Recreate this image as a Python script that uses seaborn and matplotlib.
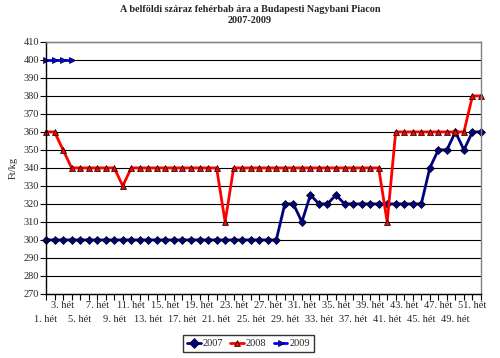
import pandas as pd
import seaborn as sns
import matplotlib.pyplot as plt
from matplotlib.lines import Line2D

# Data (Ft/kg per week)
weeks = list(range(1, 53))
price_2007 = [300] * 28 + [320, 320, 310, 325, 320, 320, 325] + [320] * 10 + [340, 350, 350, 360, 350, 360, 360]
price_2008 = [360, 360, 350, 340, 340, 340, 340, 340, 340, 330] + [340] * 11 + [310] + [340] * 18 + [310] + [360] * 9 + [380, 380]
price_2009 = [400, 400, 400, 400]

rows = []
for w, v in zip(weeks, price_2007):
    rows.append(("2007", w, v))
for w, v in zip(weeks, price_2008):
    rows.append(("2008", w, v))
for w, v in zip(weeks, price_2009):
    rows.append(("2009", w, v))
df = pd.DataFrame(rows, columns=["ev", "het", "ar"])

sns.set_style("white")
plt.rcParams["font.family"] = ["Liberation Serif", "DejaVu Serif"]

fig = plt.figure(figsize=(5, 3.58), dpi=100)
ax = fig.add_axes([0.092, 0.179, 0.87, 0.704])

colors = {"2007": "#000080", "2008": "#FF0000", "2009": "#0000FF"}
markers = {"2007": "D", "2008": "^", "2009": ">"}

# horizontal grid
for y in range(270, 411, 10):
    ax.axhline(y, color="black", lw=0.8, zorder=0)

sns.lineplot(data=df, x="het", y="ar", hue="ev", style="ev", palette=colors,
             markers=markers, dashes=False, lw=2, markersize=4.5,
             markeredgecolor="black", markeredgewidth=0.5, legend=False, ax=ax)
for line in ax.lines:
    line.set_clip_on(False)

ax.set_xlim(1, 52)
ax.set_ylim(270, 410)
ax.set_yticks(range(270, 411, 10))

# two rows of week labels: upper row on major ticks, lower row on minor ticks
upper = [w for w in weeks if w % 4 != 1]
lower = [w for w in weeks if w % 4 == 1]
ax.set_xticks(upper)
ax.set_xticklabels([f"{w}. hét" if w % 4 == 3 else "" for w in upper])
ax.set_xticks(lower, minor=True)
ax.set_xticklabels([f"{w}. hét" for w in lower], minor=True)

ax.tick_params(axis="both", which="both", labelsize=7.5, length=4, width=0.8,
               direction="out", bottom=True, left=True, color="black")
ax.tick_params(axis="x", which="major", pad=1)
ax.tick_params(axis="x", which="minor", pad=11)
ax.tick_params(axis="y", pad=1)

ax.set_xlabel("")
ax.set_ylabel("Ft/kg", fontsize=7.5, labelpad=4)

for side in ["left", "bottom"]:
    ax.spines[side].set_color("black")
    ax.spines[side].set_linewidth(1)
for side in ["top", "right"]:
    ax.spines[side].set_color("#808080")
    ax.spines[side].set_linewidth(1)

fig.suptitle("A belföldi száraz fehérbab ára a Budapesti Nagybani Piacon\n2007-2009",
             fontsize=7.3, fontweight="bold", y=0.985)

handles = [Line2D([], [], color=colors[k], marker=markers[k], lw=2, markersize=5,
                  markeredgecolor="black", markeredgewidth=0.5) for k in ["2007", "2008", "2009"]]
fig.legend(handles, ["2007", "2008", "2009"], loc="center", bbox_to_anchor=(0.497, 0.04),
           ncol=3, fontsize=7.5, frameon=True, fancybox=False, edgecolor="black",
           handlelength=1.3, handletextpad=0.2, columnspacing=0.7, borderpad=0.4)

fig.savefig("out.png", dpi=100)
